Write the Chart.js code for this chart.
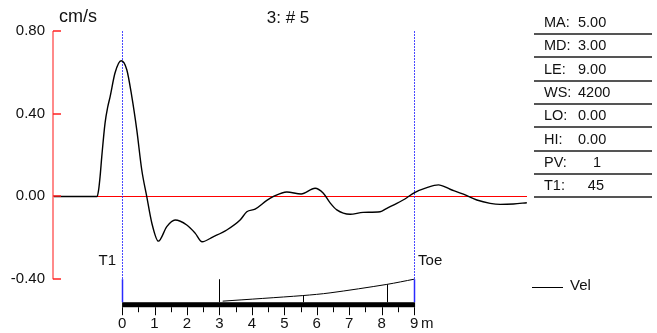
<!DOCTYPE html>
<html>
<head>
<meta charset="utf-8">
<script src="https://cdn.jsdelivr.net/npm/chart.js@4/dist/chart.umd.min.js"></script>
<style>
html,body{margin:0;padding:0;background:#fff;}
#wrap{width:657px;height:333px;position:relative;}
</style>
</head>
<body>
<div id="wrap"><canvas id="c" width="657" height="333"></canvas></div>
<script>
// ---- data ----
const titleText = "3: # 5";
const yUnit = "cm/s";
const xUnit = "m";
const yTicks = [0.80, 0.40, 0.00, -0.40];
const xTicks = [0, 1, 2, 3, 4, 5, 6, 7, 8, 9];
const velX = [-2.158,-0.771,-0.724,-0.678,-0.626,-0.524,-0.440,-0.370,-0.216,-0.031,0.145,0.299,0.453,0.607,0.761,0.916,1.119,1.378,1.634,1.994,2.250,2.466,2.805,3.227,3.637,3.844,4.100,4.461,4.655,5.077,5.518,5.949,6.196,6.412,6.618,7.028,7.429,7.953,8.160,8.468,8.776,9.001,9.393,9.750,10.111,10.521,10.934,11.344,11.652,12.062,12.475];
const velY = [0,0,0.031,0.096,0.193,0.356,0.434,0.482,0.598,0.656,0.613,0.484,0.322,0.128,-0.001,-0.128,-0.216,-0.146,-0.114,-0.138,-0.177,-0.219,-0.195,-0.162,-0.114,-0.074,-0.061,-0.019,-0.001,0.022,0.012,0.040,0.017,-0.031,-0.065,-0.086,-0.077,-0.074,-0.057,-0.033,-0.006,0.018,0.043,0.056,0.035,0.011,-0.017,-0.033,-0.038,-0.036,-0.030];
const pileX = [3.10, 5.57, 6.41, 8.16, 9.00];
const pileY = [-0.506, -0.479, -0.466, -0.425, -0.400];
const pileMarks = [3.00, 5.57, 8.16];
const markerPos = [0, 9];
const markerNames = ["T1", "Toe"];
const tableLabels = ["MA:", "MD:", "LE:", "WS:", "LO:", "HI:", "PV:", "T1:"];
const tableValues = ["5.00", "3.00", "9.00", "4200", "0.00", "0.00", "1", "45"];
const legendName = "Vel";

const FONT = "'Liberation Sans', Arial, sans-serif";

const deco = {
  id: 'deco',
  beforeDatasetsDraw(chart) {
    const {ctx, chartArea, scales:{x, y}} = chart;
    ctx.save();
    // zero line
    ctx.strokeStyle = '#ff0000';
    ctx.lineWidth = 1;
    const y0 = Math.round(y.getPixelForValue(0)) + 0.5;
    ctx.beginPath(); ctx.moveTo(chartArea.left, y0); ctx.lineTo(chartArea.right, y0); ctx.stroke();
    // blue dotted marker lines
    const yTop = y.getPixelForValue(yTicks[0]);
    const yBot = y.getPixelForValue(yTicks[yTicks.length-1]);
    ctx.strokeStyle = 'rgba(40,40,255,0.85)';
    ctx.setLineDash([2, 1]);
    markerPos.forEach(p => {
      const px = Math.round(x.getPixelForValue(p)) + 0.5;
      ctx.beginPath(); ctx.moveTo(px, yTop); ctx.lineTo(px, yBot); ctx.stroke();
    });
    ctx.setLineDash([]);
    ctx.restore();
  },
  afterDatasetsDraw(chart) {
    const {ctx, chartArea, scales:{x, y}} = chart;
    ctx.save();
    const yTop = y.getPixelForValue(yTicks[0]);
    const yBot = y.getPixelForValue(yTicks[yTicks.length-1]);
    const axX = chartArea.left;
    // y axis
    ctx.strokeStyle = '#ff8a8a';
    ctx.lineWidth = 2;
    ctx.beginPath(); ctx.moveTo(axX+1, yTop); ctx.lineTo(axX+1, yBot); ctx.stroke();
    ctx.fillStyle = '#111';
    ctx.font = '15px ' + FONT;
    ctx.textAlign = 'right'; ctx.textBaseline = 'middle';
    ctx.strokeStyle = '#ff2020';
    ctx.lineWidth = 1.5;
    yTicks.forEach(v => {
      const py = Math.round(y.getPixelForValue(v));
      ctx.beginPath(); ctx.moveTo(axX+1, py); ctx.lineTo(axX+9, py); ctx.stroke();
      ctx.fillText(v.toFixed(2), axX-7, py);
    });
    // unit + title
    ctx.textAlign = 'left';
    ctx.font = '18px ' + FONT;
    ctx.fillText(yUnit, 59, 17);
    ctx.textAlign = 'center';
    ctx.font = '17px ' + FONT;
    ctx.fillText(titleText, 288, 18);

    // bottom length bar
    const x0 = x.getPixelForValue(xTicks[0]);
    const x9 = x.getPixelForValue(xTicks[xTicks.length-1]);
    const barTop = yBot + 23, barH = 5;
    ctx.fillStyle = '#000';
    ctx.fillRect(x0, barTop, x9 - x0 + 1, barH);
    ctx.strokeStyle = '#000'; ctx.lineWidth = 1;
    for (let v = xTicks[0]; v <= xTicks[xTicks.length-1] + 1e-9; v += 0.5) {
      const px = Math.round(x.getPixelForValue(v)) + 0.5;
      const len = Number.isInteger(v) ? 8 : 5;
      ctx.beginPath(); ctx.moveTo(px, barTop + barH); ctx.lineTo(px, barTop + barH + len); ctx.stroke();
    }
    ctx.font = '15px ' + FONT;
    ctx.textAlign = 'center'; ctx.textBaseline = 'middle';
    ctx.fillStyle = '#111';
    xTicks.forEach(v => ctx.fillText(String(v), x.getPixelForValue(v), 324));
    ctx.textAlign = 'left';
    ctx.fillText(xUnit, x9 + 7, 324);

    // pile marks (vertical ticks from profile to bar)
    ctx.strokeStyle = '#000'; ctx.lineWidth = 1;
    pileMarks.forEach((m, i) => {
      const px = Math.round(x.getPixelForValue(m)) + 0.5;
      let topV;
      if (i === 0) topV = yTicks[yTicks.length-1];
      else {
        let k = 0; while (k < pileX.length-2 && pileX[k+1] < m) k++;
        const t = (m - pileX[k]) / (pileX[k+1] - pileX[k]);
        topV = pileY[k] + t * (pileY[k+1] - pileY[k]);
      }
      ctx.beginPath(); ctx.moveTo(px, y.getPixelForValue(topV)); ctx.lineTo(px, barTop); ctx.stroke();
    });
    // blue solid marker stubs
    ctx.strokeStyle = '#2a2aff'; ctx.lineWidth = 1.5;
    markerPos.forEach(p => {
      const px = Math.round(x.getPixelForValue(p)) + 0.5;
      ctx.beginPath(); ctx.moveTo(px, yBot); ctx.lineTo(px, barTop); ctx.stroke();
    });
    // marker names
    ctx.fillStyle = '#111';
    ctx.font = '15px ' + FONT;
    ctx.textBaseline = 'middle';
    ctx.textAlign = 'right';
    ctx.fillText(markerNames[0], x.getPixelForValue(markerPos[0]) - 6, 261);
    ctx.textAlign = 'left';
    ctx.fillText(markerNames[1], x.getPixelForValue(markerPos[1]) + 4, 261);

    // legend
    ctx.strokeStyle = '#000'; ctx.lineWidth = 1;
    ctx.beginPath(); ctx.moveTo(532, 287.5); ctx.lineTo(563, 287.5); ctx.stroke();
    ctx.fillText(legendName, 570, 286);

    // right info table
    ctx.font = '14.5px ' + FONT;
    const rowH = 23.3, firstY = 23;
    tableLabels.forEach((lab, i) => {
      const cy = firstY + i * rowH;
      ctx.fillStyle = '#111';
      ctx.textAlign = 'left';
      ctx.fillText(lab, 544, cy);
      const val = tableValues[i];
      if (val.length >= 4) { ctx.textAlign = 'left'; ctx.fillText(val, 578, cy); }
      else { ctx.textAlign = 'right'; ctx.fillText(val, val.length === 1 ? 601 : 604, cy); }
      ctx.strokeStyle = '#555'; ctx.lineWidth = 2;
      const ly = Math.round(cy + 11);
      ctx.beginPath(); ctx.moveTo(534, ly); ctx.lineTo(652, ly); ctx.stroke();
    });
    ctx.restore();
  }
};

new Chart(document.getElementById('c'), {
  type: 'line',
  data: {
    datasets: [
      { label: legendName, data: velX.map((v, i) => ({x: v, y: velY[i]})),
        borderColor: '#000', borderWidth: 1.4, pointRadius: 0, cubicInterpolationMode: 'monotone', fill: false },
      { label: 'pile', data: pileX.map((v, i) => ({x: v, y: pileY[i]})),
        borderColor: '#000', borderWidth: 1, pointRadius: 0, tension: 0.3, fill: false }
    ]
  },
  options: {
    responsive: false, animation: false, devicePixelRatio: 1,
    layout: { padding: { left: 52, right: 130, top: 0, bottom: 0 } },
    plugins: { legend: { display: false }, tooltip: { enabled: false }, title: { display: false } },
    scales: {
      x: { type: 'linear', min: -2.16, max: 12.48, display: false },
      y: { type: 'linear', min: -0.66, max: 0.95, display: false }
    }
  },
  plugins: [deco]
});
</script>
</body>
</html>
